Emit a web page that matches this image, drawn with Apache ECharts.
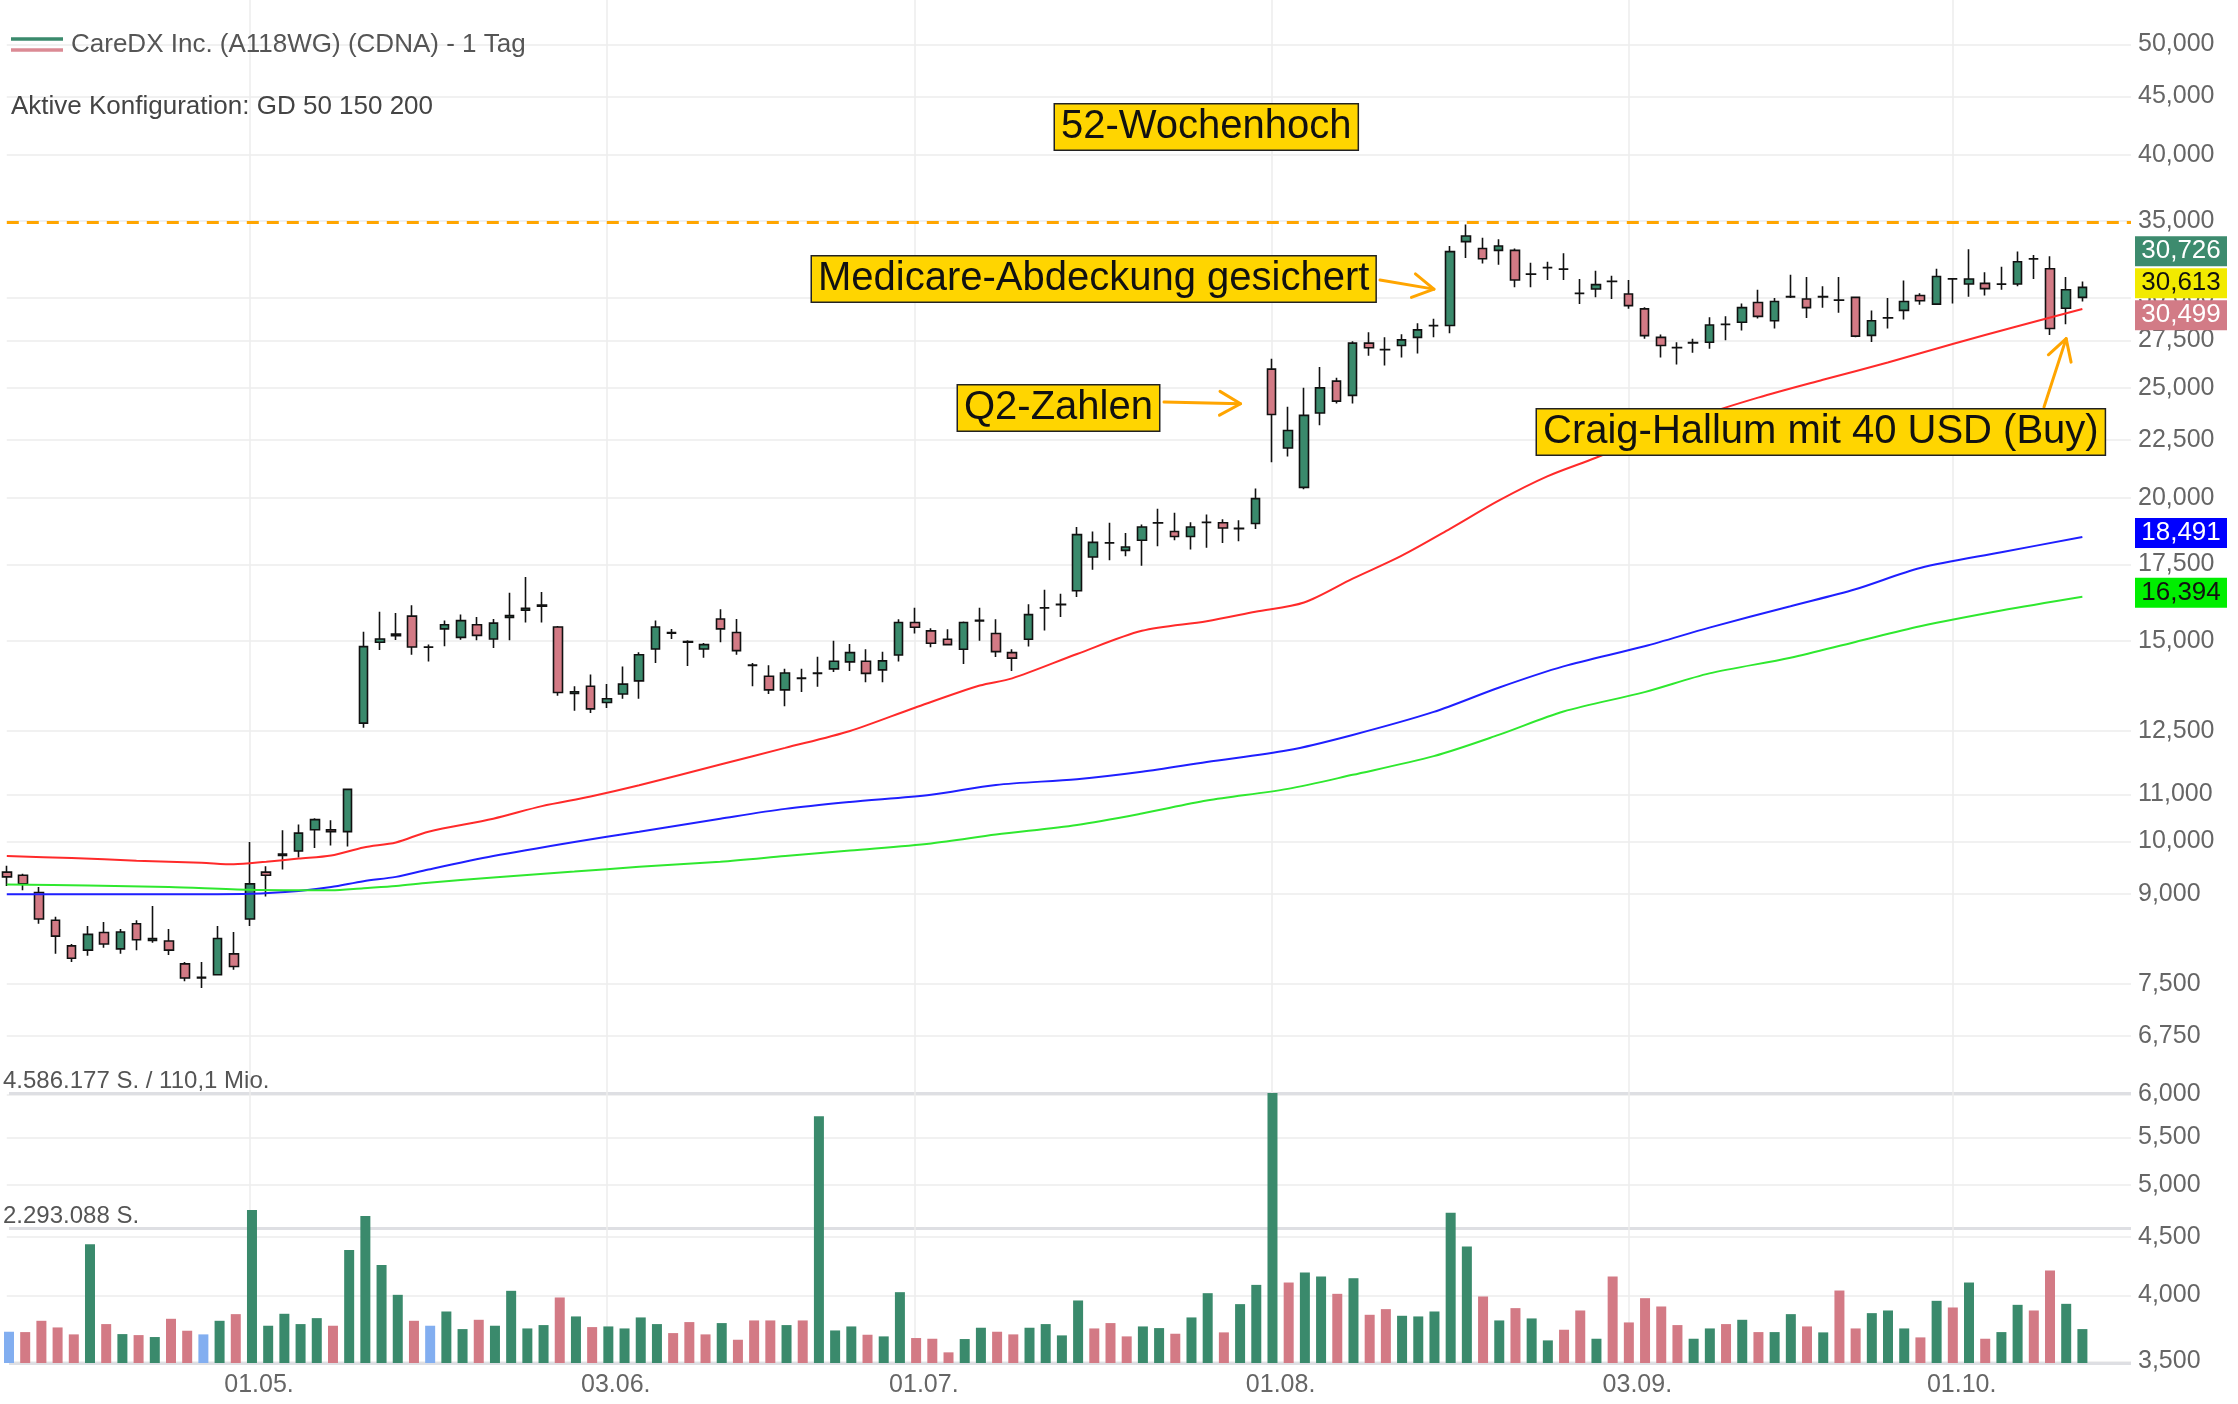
<!DOCTYPE html>
<html><head><meta charset="utf-8">
<script src="https://cdn.jsdelivr.net/npm/echarts@6/dist/echarts.min.js"></script>
<style>html,body{margin:0;padding:0;background:#fff}#c{width:2238px;height:1404px}</style>
</head><body><div id="c"></div>
<script>
// ---------- DATA ----------
const categories = [
 '10.04.','11.04.','12.04.','15.04.','16.04.','17.04.','18.04.','19.04.','22.04.','23.04.','24.04.','25.04.','26.04.','29.04.','30.04.',
 '01.05.','02.05.','03.05.','06.05.','07.05.','08.05.','09.05.','10.05.','13.05.','14.05.','15.05.','16.05.','17.05.','20.05.','21.05.','22.05.','23.05.','24.05.','28.05.','29.05.','30.05.','31.05.',
 '03.06.','04.06.','05.06.','06.06.','07.06.','10.06.','11.06.','12.06.','13.06.','14.06.','17.06.','18.06.','20.06.','21.06.','24.06.','25.06.','26.06.','27.06.','28.06.',
 '01.07.','02.07.','03.07.','05.07.','08.07.','09.07.','10.07.','11.07.','12.07.','15.07.','16.07.','17.07.','18.07.','19.07.','22.07.','23.07.','24.07.','25.07.','26.07.','29.07.','30.07.','31.07.',
 '01.08.','02.08.','05.08.','06.08.','07.08.','08.08.','09.08.','12.08.','13.08.','14.08.','15.08.','16.08.','19.08.','20.08.','21.08.','22.08.','23.08.','26.08.','27.08.','28.08.','29.08.','30.08.',
 '03.09.','04.09.','05.09.','06.09.','09.09.','10.09.','11.09.','12.09.','13.09.','16.09.','17.09.','18.09.','19.09.','20.09.','23.09.','24.09.','25.09.','26.09.','27.09.','30.09.',
 '01.10.','02.10.','03.10.','04.10.','07.10.','08.10.','09.10.','10.10.','11.10.',
 ' ','  ','   '
];
const tickLabels = ['01.05.','03.06.','01.07.','01.08.','03.09.','01.10.'];
const priceTicks = [50,45,40,35,30,27.5,25,22.5,20,17.5,15,12.5,11,10,9,7.5,6.75,6,5.5,5,4.5,4,3.5];

const openPrices = [
 9.40,9.34,9.02,8.53,8.10,8.03,8.32,8.05,8.47,8.19,
 8.18,7.81,7.60,7.64,7.97,8.55,9.40,9.72,9.81,10.24,
 10.24,10.20,12.70,14.95,15.15,15.76,14.80,15.36,15.10,15.49,
 15.05,15.72,15.95,16.08,15.42,13.48,13.68,13.24,13.47,13.83,
 14.75,15.25,14.97,14.75,15.67,15.25,14.28,13.96,13.58,13.91,
 14.04,14.17,14.37,14.39,14.14,14.57,15.56,15.30,15.04,14.74,
 15.61,15.22,14.64,15.04,16.02,16.13,16.59,17.76,18.28,18.00,
 18.37,19.02,18.70,18.51,19.04,19.03,18.80,19.00,25.95,22.13,
 20.44,23.75,25.33,24.61,27.35,27.00,27.22,27.67,28.33,28.34,
 33.57,33.11,32.98,32.98,31.43,31.85,31.76,30.25,30.51,30.99,
 30.20,29.31,27.67,27.11,27.36,27.40,28.41,28.53,29.69,28.61,
 30.03,29.90,30.03,29.84,30.00,27.78,28.77,29.22,30.11,29.59,
 31.14,30.82,30.86,30.81,30.82,32.42,31.78,29.35,30.00];
const closePrices = [
 9.31,9.18,8.55,8.26,7.90,8.29,8.13,8.33,8.20,8.22,
 8.03,7.59,7.59,8.22,7.77,9.18,9.34,9.75,10.17,10.45,
 10.20,11.11,14.82,15.05,15.20,14.81,14.81,15.49,15.62,15.16,
 15.54,15.78,16.01,16.12,13.51,13.53,13.07,13.34,13.74,14.58,
 15.42,15.23,14.95,14.88,15.36,14.70,14.27,13.58,14.05,13.90,
 14.05,14.39,14.64,14.04,14.40,15.56,15.41,14.92,14.88,15.56,
 15.63,14.67,14.48,15.81,16.03,16.14,18.58,18.29,18.27,18.12,
 18.87,19.03,18.51,18.87,19.05,18.83,18.82,19.98,23.68,22.93,
 23.64,24.99,24.33,27.35,27.10,26.99,27.53,28.09,28.34,32.90,
 33.95,32.43,33.28,31.07,31.44,31.86,31.75,30.24,30.78,30.97,
 29.50,27.77,27.22,27.10,27.38,28.37,28.40,29.38,28.87,29.75,
 30.04,29.38,30.04,29.83,27.74,28.61,28.78,29.75,29.79,31.29,
 31.13,31.13,30.53,30.82,32.23,32.41,28.17,30.46,30.61];
const lowPrices = [
 9.14,9.06,8.47,7.97,7.84,7.94,8.07,7.97,8.03,8.15,
 7.95,7.54,7.44,7.63,7.72,8.43,8.95,9.45,9.68,9.87,
 9.92,9.90,12.58,14.72,15.02,14.58,14.38,14.83,15.03,15.01,
 14.78,15.01,15.56,15.56,13.42,13.02,12.96,13.09,13.34,13.34,
 14.34,15.05,14.25,14.49,14.95,14.58,13.68,13.47,13.14,13.52,
 13.67,14.08,14.11,13.79,13.79,14.38,15.22,14.80,14.85,14.31,
 15.00,14.51,14.11,14.82,15.31,15.73,16.38,17.31,17.64,17.79,
 17.45,18.15,18.37,18.03,18.09,18.27,18.33,18.79,21.50,21.76,
 20.36,23.17,24.21,24.21,26.66,26.14,26.57,26.78,27.67,27.90,
 32.48,32.12,32.04,30.61,30.61,31.07,31.07,29.60,30.00,29.90,
 29.31,27.59,26.57,26.19,26.82,27.04,27.51,28.06,28.74,28.17,
 29.96,28.78,29.38,29.08,27.68,27.41,28.17,28.69,29.55,29.55,
 29.63,30.04,30.11,30.46,30.68,31.13,27.80,28.41,29.75];
const highPrices = [
 9.52,9.37,9.12,8.59,8.13,8.43,8.50,8.38,8.53,8.78,
 8.38,7.84,7.84,8.43,8.33,9.99,9.51,10.23,10.35,10.48,
 10.44,11.13,15.27,15.90,15.86,16.11,14.88,15.62,15.81,15.73,
 15.67,16.52,17.06,16.55,15.45,13.68,14.01,13.74,14.24,14.65,
 15.62,15.36,15.01,14.93,15.98,15.67,14.34,14.27,14.17,14.17,
 14.52,15.00,14.90,14.74,14.67,15.66,16.03,15.38,15.35,15.59,
 16.03,15.66,14.74,16.14,16.62,16.49,18.87,18.70,19.03,18.64,
 18.96,19.58,19.42,19.05,19.35,19.17,19.13,20.39,26.50,24.05,
 24.99,26.06,25.50,27.46,27.96,27.67,27.85,28.47,28.73,33.28,
 34.76,33.84,33.73,33.11,32.17,32.23,32.80,31.13,31.65,31.34,
 31.07,29.41,27.83,27.40,27.60,28.81,28.87,29.63,30.46,29.96,
 31.40,31.25,30.68,31.25,30.05,29.22,29.96,31.03,30.25,31.78,
 31.20,33.05,31.56,31.91,32.91,32.68,32.59,31.25,30.97];
const volumes = [
 531000,525000,717000,604000,486000,2016000,661000,491000,474000,441000,
 751000,548000,486000,717000,830000,2598000,633000,836000,661000,762000,
 633000,1920000,2496000,1666000,1158000,717000,633000,875000,576000,734000,
 633000,1226000,587000,644000,1113000,791000,610000,621000,587000,774000,
 661000,508000,695000,486000,678000,395000,723000,723000,644000,723000,
 4191000,553000,621000,480000,452000,1203000,424000,412000,181000,407000,
 599000,531000,486000,599000,661000,469000,1062000,587000,678000,452000,
 621000,593000,497000,774000,1186000,520000,1000000,1327000,4586177,1367000,
 1536000,1468000,1175000,1440000,819000,915000,802000,791000,875000,2553000,
 1977000,1130000,723000,932000,757000,384000,565000,892000,412000,1468000,
 689000,1101000,960000,644000,412000,587000,661000,734000,525000,525000,
 830000,621000,520000,1231000,587000,847000,892000,587000,435000,1056000,
 943000,1367000,412000,525000,988000,892000,1570000,1005000,576000];
// u = up vs previous close, d = down, n = unchanged
const volumeDirection = ('nddddududu'+'ddnuduuuuu'+'duuuudnuud'+'uuuududuuu'+'udddudddud'+
  'uuuduudddu'+'udduuuuddd'+'uuduuduuud'+'uududduuuu'+'ududuuddud'+'dddduududu'+'ududduuudu'+'duduudduu').split('');

// moving averages: [dayIndex, value]
const ma50 = [[0,9.71],[4,9.67],[8,9.62],[12,9.58],[14,9.55],[16,9.60],[18,9.66],[20,9.72],[22,9.88],[24,9.98],[26,10.2],[30,10.47],[33,10.74],[36,10.95],[39,11.2],[44,11.68],[48,12.08],[52,12.5],[56,13.1],[60,13.7],[62,13.9],[66,14.6],[70,15.3],[74,15.6],[77,15.9],[80,16.2],[83,17.0],[86,17.8],[89,18.8],[92,19.9],[95,20.9],[98,21.7],[101,22.6],[104,23.5],[108,24.5],[112,25.4],[116,26.3],[120,27.3],[124,28.3],[128,29.3]];
const ma150 = [[0,8.99],[10,8.99],[15,9.0],[18,9.05],[20,9.12],[22,9.23],[24,9.31],[26,9.45],[30,9.71],[35,9.99],[39,10.2],[44,10.47],[48,10.68],[52,10.83],[57,10.99],[61,11.21],[66,11.34],[70,11.51],[74,11.74],[79,12.02],[83,12.4],[88,12.99],[92,13.64],[96,14.24],[101,14.83],[105,15.4],[110,16.08],[114,16.64],[118,17.37],[123,17.93],[128,18.49]];
const ma200 = [[0,9.17],[5,9.15],[10,9.12],[15,9.07],[20,9.06],[22,9.10],[24,9.14],[26,9.2],[30,9.3],[35,9.41],[39,9.5],[44,9.6],[48,9.71],[52,9.82],[57,9.96],[61,10.14],[66,10.34],[70,10.58],[74,10.86],[79,11.12],[83,11.44],[88,11.88],[92,12.4],[96,13.0],[101,13.52],[105,14.04],[110,14.49],[114,14.96],[118,15.44],[123,15.94],[128,16.39]];

const high52w = 34.9;
const askPrice = 30.726, lastPrice = 30.613, bidPrice = 30.499;
const ma150Last = 18.491, ma200Last = 16.394;
const volumeMax = 4586177;
const volumeTurnover = '110,1 Mio.';
const titleText = 'CareDX Inc. (A118WG) (CDNA) - 1 Tag';
const configText = 'Aktive Konfiguration: GD 50 150 200';

// ---------- CHART ----------
const FONT = '"Liberation Sans", Arial, sans-serif';
const UP = '#3a8a6c', DOWN = '#d37a85', FLAT = '#82aef0';
const fmtPrice = v => Number(v).toFixed(3).replace('.', ',');
const fmtVol = v => String(Math.floor(v)).replace(/\B(?=(\d{3})+(?!\d))/g, '.');
const showLabel = (idx, val) => tickLabels.indexOf(val) >= 0;

const GL = 6.8, GR = 107;
const chart = echarts.init(document.getElementById('c'));
const option = {
  animation: false,
  backgroundColor: '#ffffff',
  textStyle: { fontFamily: FONT },
  grid: [
    { left: GL, right: GR, top: 0, bottom: 41 },
    { left: GL, right: GR, top: 1093, bottom: 41 }
  ],
  xAxis: [
    { type: 'category', gridIndex: 0, data: categories, boundaryGap: false,
      axisLine: { show: false }, axisTick: { show: false },
      axisLabel: { interval: showLabel, color: '#666', fontSize: 25, margin: 10, padding: [0, 0, 0, 18], fontFamily: FONT },
      splitLine: { show: true, interval: showLabel, lineStyle: { color: '#ececec', width: 1.5 } } },
    { type: 'category', gridIndex: 1, data: categories, boundaryGap: false, show: false }
  ],
  yAxis: [
    { type: 'log', logBase: 10, gridIndex: 0, position: 'right', min: 3.489, max: 54.68,
      axisLine: { show: false },
      axisTick: { show: false, customValues: priceTicks },
      axisLabel: { customValues: priceTicks, formatter: fmtPrice, color: '#666', fontSize: 25, margin: 7, padding: [0, 0, 8, 0], fontFamily: FONT },
      splitLine: { show: true, lineStyle: { color: '#ececec', width: 1.5 } } },
    { type: 'value', gridIndex: 1, position: 'left', min: 0, max: volumeMax, interval: volumeMax / 2, offset: 6,
      axisLine: { show: false }, axisTick: { show: false },
      axisLabel: { inside: true, margin: 0, showMinLabel: false, verticalAlign: 'bottom', color: '#555', fontSize: 24, fontFamily: FONT,
        formatter: v => v <= 0 ? '' : (v >= volumeMax ? fmtVol(v) + ' S. / ' + volumeTurnover : fmtVol(v) + ' S.') },
      splitLine: { show: true, lineStyle: { color: '#dedfe3', width: 3 } } }
  ],
  series: [
    { type: 'bar', name: 'Volumen', xAxisIndex: 1, yAxisIndex: 1, barWidth: 10, clip: false,
      data: volumes.map((v, i) => ({ value: v, itemStyle: { color: volumeDirection[i] === 'u' ? UP : (volumeDirection[i] === 'd' ? DOWN : FLAT) } })) },
    { type: 'candlestick', name: 'CDNA', xAxisIndex: 0, yAxisIndex: 0, barWidth: 9, clip: false,
      data: openPrices.map((o, i) => [o, closePrices[i], lowPrices[i], highPrices[i]]),
      itemStyle: { color: UP, color0: DOWN, borderColor: '#111', borderColor0: '#111', borderColorDoji: '#111', borderWidth: 1.6 },
      markLine: { silent: true, symbol: ['none', 'none'], label: { show: false },
        lineStyle: { color: '#ffa500', type: [12, 8], width: 3 }, data: [{ yAxis: high52w }] } },
    { type: 'line', name: 'GD 50', data: ma50, smooth: 0.3, showSymbol: false, symbol: 'none', lineStyle: { color: '#ff2a2a', width: 2 } },
    { type: 'line', name: 'GD 150', data: ma150, smooth: 0.3, showSymbol: false, symbol: 'none', lineStyle: { color: '#1f1fff', width: 2 } },
    { type: 'line', name: 'GD 200', data: ma200, smooth: 0.3, showSymbol: false, symbol: 'none', lineStyle: { color: '#2fe82f', width: 2 } }
  ]
};
chart.setOption(option);

// ---------- ANNOTATIONS ----------
const P = (i, v) => chart.convertToPixel({ gridIndex: 0 }, [i, v]);
const yOf = v => chart.convertToPixel({ yAxisIndex: 0 }, v);
const G = [];
const Z = 100;
function text(x, y, s, font, fill) {
  G.push({ type: 'text', z: Z, style: { x: x, y: y, text: s, font: font, fill: fill, align: 'left', verticalAlign: 'middle' } });
}
function boxLabel(x, y, s) {
  G.push({ type: 'text', z: Z + 2, style: { x: x, y: y, text: s, font: '40px ' + FONT, fill: '#111', align: 'left', verticalAlign: 'middle',
    backgroundColor: '#ffd500', borderColor: '#222', borderWidth: 1.5, padding: [3, 6, 2, 6] } });
}
function arrow(x1, y1, x2, y2) {
  const a = Math.atan2(y2 - y1, x2 - x1), L = 24, h = 0.52;
  const st = { stroke: '#ffa500', lineWidth: 3, fill: null, lineCap: 'round', lineJoin: 'round' };
  G.push({ type: 'polyline', z: Z + 1, shape: { points: [[x1, y1], [x2, y2]] }, style: st });
  G.push({ type: 'polyline', z: Z + 1, shape: { points: [[x2 - L * Math.cos(a - h), y2 - L * Math.sin(a - h)], [x2, y2], [x2 - L * Math.cos(a + h), y2 - L * Math.sin(a + h)]] }, style: st });
}
function quoteBox(v, yc, bg, fg) {
  G.push({ type: 'rect', z: Z, shape: { x: 2135, y: yc - 15, width: 92, height: 30 }, style: { fill: bg } });
  G.push({ type: 'text', z: Z + 1, style: { x: 2181, y: yc, text: fmtPrice(v), font: '26px ' + FONT, fill: fg, align: 'center', verticalAlign: 'middle' } });
}

// legend
G.push({ type: 'line', z: Z, shape: { x1: 11, y1: 39, x2: 63, y2: 39 }, style: { stroke: UP, lineWidth: 3.5 } });
G.push({ type: 'line', z: Z, shape: { x1: 11, y1: 50, x2: 63, y2: 50 }, style: { stroke: '#db8a94', lineWidth: 3.5 } });
text(71, 45, titleText, '26px ' + FONT, '#555');
text(11, 107, configText, '26px ' + FONT, '#444');

// annotation boxes
boxLabel(1055, 127, '52-Wochenhoch');
boxLabel(812, 279, 'Medicare-Abdeckung gesichert');
boxLabel(958, 408, 'Q2-Zahlen');
boxLabel(1537, 432, 'Craig-Hallum mit 40 USD (Buy)');

let t = P(89, 30.5); arrow(1380, 280, t[0] - 16, t[1]);
t = P(78, 24.2); arrow(1164, 402, t[0] - 31, t[1]);
t = P(127, 27.6); arrow(2044, 407, t[0], t[1]);

// price boxes on the axis (stacked around the last price)
const yLast = yOf(lastPrice) - 4;
quoteBox(askPrice, yLast - 32, '#3d8b6e', '#fff');
quoteBox(lastPrice, yLast, '#f2ea00', '#111');
quoteBox(bidPrice, yLast + 32, '#d27b86', '#fff');
quoteBox(ma150Last, yOf(ma150Last) - 4, '#0000ff', '#fff');
quoteBox(ma200Last, yOf(ma200Last) - 4, '#00ee00', '#111');

chart.setOption({ graphic: { elements: G } });
</script>
</body></html>
